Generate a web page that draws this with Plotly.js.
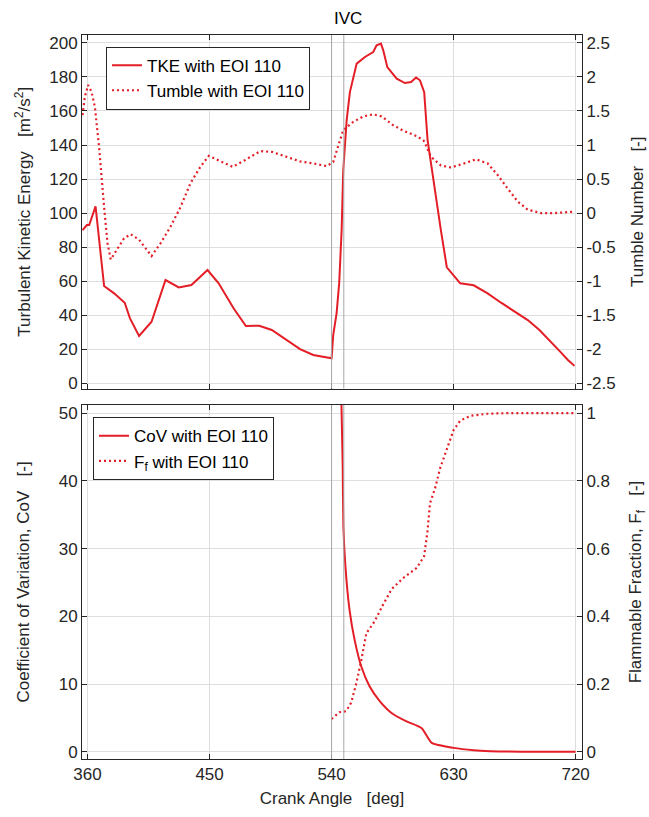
<!DOCTYPE html>
<html>
<head>
<meta charset="utf-8">
<script src="https://cdn.plot.ly/plotly-3.0.1.min.js"></script>
<style>html,body{margin:0;padding:0;background:#fff;}#chart{width:649px;height:817px;}</style>
</head>
<body>
<div id="chart"></div>
<script>
// Crank angle (deg) and TKE (m^2/s^2)
var angTKE = [356.3, 359.5, 361.2, 365.9, 372.2, 379.6, 387.4, 391.3, 398, 407.2, 417.5, 427.3, 436.6, 448.5, 456.7, 467.7, 476.8, 486.6, 495.9, 507, 516.7, 526.5, 540, 541.2, 543.7, 545.6, 547.4, 548.6, 551.1, 553.5, 558.5, 564.6, 570.7, 573.2, 576.4, 578.1, 581.1, 588, 594.1, 598.6, 602.3, 605.2, 608.3, 610.8, 615.7, 620.6, 625, 634.9, 644.8, 655.1, 665, 674.8, 684.7, 693.3, 701.9, 709.3, 714.3, 719.2];
var tke = [90, 93, 93, 104, 57.2, 52.9, 47.4, 38.2, 27.9, 36.2, 60.7, 56.4, 57.8, 66.6, 58.8, 44.1, 33.7, 33.9, 31.4, 25.1, 20.1, 16.7, 14.8, 28.4, 41.3, 58.9, 90, 125.2, 154.5, 171.1, 187.8, 191.7, 194.6, 198.5, 199.5, 195.6, 185.8, 179, 176.4, 177, 179.6, 178, 171, 142.8, 115.4, 90, 68.2, 58.8, 57.6, 52.9, 47.4, 42.1, 37.2, 31.4, 24.5, 18.1, 13.8, 10.3];

// Tumble number (-)
var angTum = [356.3, 358, 360.4, 362.9, 365.4, 368.5, 372.2, 374.7, 377.1, 382, 386.9, 391.8, 398, 407.2, 413.9, 421.2, 428.6, 435.9, 443.2, 449.4, 458, 467, 476.3, 487.3, 495.9, 507, 516.7, 526.5, 536.3, 541.2, 544.9, 548.6, 556, 563.4, 570.7, 576.9, 585.5, 592.9, 602.8, 607.7, 609.5, 613.2, 620.6, 628, 637.8, 646.5, 655.1, 662.5, 669.9, 677.3, 684.7, 694.5, 704.4, 711.8, 718];
var tumble = [1.44, 1.71, 1.88, 1.78, 1.56, 0.97, 0.09, -0.44, -0.68, -0.52, -0.37, -0.31, -0.39, -0.63, -0.44, -0.2, 0.09, 0.44, 0.68, 0.84, 0.76, 0.68, 0.78, 0.91, 0.9, 0.83, 0.76, 0.73, 0.69, 0.75, 1.0, 1.22, 1.34, 1.42, 1.45, 1.42, 1.29, 1.21, 1.13, 1.07, 1.0, 0.83, 0.7, 0.67, 0.73, 0.79, 0.73, 0.56, 0.36, 0.17, 0.05, 0.0, 0.0, 0.01, 0.02];

// Coefficient of variation (-)
var angCoV = [547.2, 548.2, 548.7, 550.2, 553.2, 556.9, 561.9, 568, 575.5, 584.2, 595.3, 606.5, 613.9, 630, 644.8, 657.2, 670, 690, 720];
var cov = [52, 42.1, 33.3, 27.4, 21, 16.6, 12.6, 9.7, 7.5, 5.75, 4.5, 3.5, 1.33, 0.59, 0.24, 0.1, 0.05, 0.02, 0.02];

// Flammable fraction (-)
var angFf = [540, 545.7, 550.7, 554.4, 558.1, 561.9, 565.6, 571.7, 577.9, 584.2, 592.8, 602.8, 608.2, 610.6, 612.6, 616.4, 620.1, 625.1, 630, 635, 642.4, 654.8, 670, 690, 720];
var ff = [0.097, 0.117, 0.12, 0.145, 0.2, 0.27, 0.35, 0.385, 0.434, 0.48, 0.513, 0.543, 0.577, 0.646, 0.734, 0.779, 0.838, 0.892, 0.95, 0.978, 0.992, 0.998, 1.0, 1.0, 1.0];

// Tick labels
var xTicks = [360, 450, 540, 630, 720];
var tkeTicks = [0, 20, 40, 60, 80, 100, 120, 140, 160, 180, 200];
var tumTicks = [-2.5, -2, -1.5, -1, -0.5, 0, 0.5, 1, 1.5, 2, 2.5];
var tumLabels = ['-2.5', '-2', '-1.5', '-1', '-0.5', '0', '0.5', '1', '1.5', '2', '2.5'];
var covTicks = [0, 10, 20, 30, 40, 50];
var ffTicks = [0, 0.2, 0.4, 0.6, 0.8, 1];
var ffLabels = ['0', '0.2', '0.4', '0.6', '0.8', '1'];
var markers = [540, 549];

var RED = '#e41e26';
var DARK = '#262626';
var GRID = '#dedede';
var FONT = 'Liberation Sans, Arial, Helvetica, sans-serif';
var FS = 17;
var NB = '\u00A0\u00A0\u00A0';

var traces = [
  {x: angTKE, y: tke, xaxis: 'x', yaxis: 'y', mode: 'lines', name: 'TKE with EOI 110',
   line: {color: RED, width: 2}, legend: 'legend'},
  {x: angTum, y: tumble, xaxis: 'x', yaxis: 'y2', mode: 'lines', name: 'Tumble with EOI 110',
   line: {color: RED, width: 2.2, dash: '2px,3px'}, legend: 'legend'},
  {x: angCoV, y: cov, xaxis: 'x2', yaxis: 'y3', mode: 'lines', name: 'CoV with EOI 110',
   line: {color: RED, width: 2, shape: 'spline', smoothing: 0.5}, legend: 'legend2'},
  {x: angFf, y: ff, xaxis: 'x2', yaxis: 'y4', mode: 'lines', name: 'F<sub>f</sub> with EOI 110',
   line: {color: RED, width: 2.2, dash: '2px,3px'}, legend: 'legend2'}
];

function xax(extra) {
  var a = {range: [355.9, 724.7], tickvals: xTicks, ticks: 'inside', ticklen: 5, tickcolor: DARK,
    showline: true, linecolor: DARK, linewidth: 1, mirror: 'ticks', showgrid: true, gridcolor: GRID,
    zeroline: false, tickfont: {family: FONT, size: FS, color: DARK}};
  for (var k in extra) a[k] = extra[k];
  return a;
}
function yax(extra) {
  var a = {ticks: 'inside', ticklen: 5, tickcolor: DARK, showline: true, linecolor: DARK, linewidth: 1,
    zeroline: false, tickfont: {family: FONT, size: FS, color: DARK}};
  for (var k in extra) a[k] = extra[k];
  return a;
}

var topDom = [0.5117, 1];
var botDom = [0, 0.489];

var shapes = [];
markers.forEach(function (m) {
  shapes.push({type: 'line', xref: 'x', yref: 'y domain', x0: m, x1: m, y0: 0, y1: 1,
    line: {color: '#a8a8a8', width: 1}});
  shapes.push({type: 'line', xref: 'x2', yref: 'y3 domain', x0: m, x1: m, y0: 0, y1: 1,
    line: {color: '#a8a8a8', width: 1}});
});

var layout = {
  width: 649, height: 817,
  margin: {l: 82, r: 67, t: 35, b: 58},
  paper_bgcolor: '#fff', plot_bgcolor: '#fff',
  font: {family: FONT, size: FS, color: DARK},
  showlegend: true,
  xaxis: xax({anchor: 'y', showticklabels: false}),
  xaxis2: xax({anchor: 'y3', matches: 'x',
    title: {text: 'Crank Angle' + NB + '[deg]', font: {family: FONT, size: FS, color: DARK}, standoff: 8}}),
  yaxis: yax({domain: topDom, range: [-3, 204.6], tickvals: tkeTicks, showgrid: true, gridcolor: GRID,
    title: {text: 'Turbulent Kinetic Energy' + NB + '[m<sup>2</sup>/s<sup>2</sup>]', font: {family: FONT, size: FS, color: DARK}, standoff: 14}}),
  yaxis2: yax({overlaying: 'y', side: 'right', range: [-2.575, 2.615], tickvals: tumTicks, ticktext: tumLabels,
    showgrid: false,
    title: {text: 'Tumble Number' + NB + '[-]', font: {family: FONT, size: FS, color: DARK}, standoff: 16}}),
  yaxis3: yax({domain: botDom, anchor: 'x2', range: [-1.05, 51.2], tickvals: covTicks, showgrid: true, gridcolor: GRID,
    title: {text: 'Coefficient of Variation, CoV' + NB + '[-]', font: {family: FONT, size: FS, color: DARK}, standoff: 24}}),
  yaxis4: yax({overlaying: 'y3', anchor: 'x2', side: 'right', range: [-0.021, 1.024], tickvals: ffTicks, ticktext: ffLabels,
    showgrid: false,
    title: {text: 'Flammable Fraction, F<sub>f</sub>' + NB + '[-]', font: {family: FONT, size: FS, color: DARK}, standoff: 20}}),
  legend: {x: 0.048, y: 0.984, xanchor: 'left', yanchor: 'top', bgcolor: '#fff', bordercolor: DARK, borderwidth: 1,
    font: {family: FONT, size: FS, color: '#000'}, itemwidth: 30, tracegroupgap: 0},
  legend2: {x: 0.022, y: 0.472, xanchor: 'left', yanchor: 'top', bgcolor: '#fff', bordercolor: DARK, borderwidth: 1,
    font: {family: FONT, size: FS, color: '#000'}, itemwidth: 30, tracegroupgap: 0},
  shapes: shapes,
  annotations: [{xref: 'paper', yref: 'paper', x: 0.5325, y: 1, xanchor: 'center', yanchor: 'bottom', yshift: 5,
    text: 'IVC', showarrow: false, font: {family: FONT, size: FS, color: '#000'}}]
};

Plotly.newPlot('chart', traces, layout, {displayModeBar: false, staticPlot: true});
</script>
</body>
</html>
